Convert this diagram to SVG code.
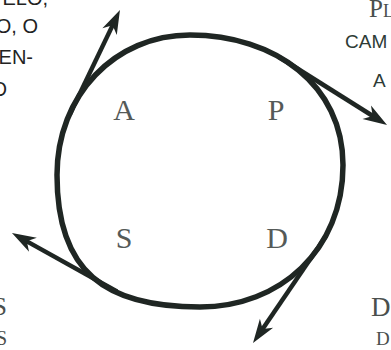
<svg xmlns="http://www.w3.org/2000/svg" width="391" height="350" viewBox="0 0 391 350">
<style>
.ring{fill:none;stroke:#1f2623;stroke-width:5.5}
.arr{fill:none;stroke:#1f2623;stroke-width:4.5;marker-end:url(#head)}
.big{font-family:"Liberation Serif",serif;font-size:30px;fill:#555a58;text-anchor:middle}
.note{font-family:"Liberation Sans",Arial,sans-serif;font-size:20px;fill:#222}
.tr{font-family:"Liberation Sans",Arial,sans-serif;font-size:19px;fill:#2d3b36}
.ser{font-family:"Liberation Serif",serif;fill:#4a4f4d}
</style>
<defs>
<marker id="head" viewBox="-12 -10 28 20" refX="0" refY="0" markerWidth="28" markerHeight="20" markerUnits="userSpaceOnUse" orient="auto">
<path d="M14,0 L-10,-8 L-3,0 L-10,8 Z" fill="#1f2623"/>
</marker>
</defs>
<g id="connectors">
<path class="ring" d="M57,175 C57,95 115,35 190,35 C275,35 343,85 343,165 C343,250 280,307 200,307 C105,307 57,272 57,175 Z"/>
<path class="arr" d="M70,114 L113.9,22.6"/>
<path class="arr" d="M279,57 L375.2,117.5"/>
<path class="arr" d="M326,236 L260.9,331.5"/>
<path class="arr" d="M117,291.5 L24.2,239.9"/>
</g>
<g id="node-A"><text class="big" x="124" y="120">A</text></g>
<g id="node-P"><text class="big" x="276" y="120">P</text></g>
<g id="node-S"><text class="big" x="124" y="248">S</text></g>
<g id="node-D"><text class="big" x="277" y="248">D</text></g>
<g id="text-top-left">
<text class="note" text-anchor="end" x="48" y="5">ELO,</text>
<text class="note" text-anchor="end" x="38" y="33">O, O</text>
<text class="note" text-anchor="end" x="33" y="64">EN-</text>
<text class="note" text-anchor="end" x="7" y="96">O</text>
</g>
<g id="text-top-right">
<text class="ser" x="369" y="17" font-size="25">P<tspan font-size="18">L</tspan></text>
<text class="tr" x="345" y="48">CAM</text>
<text class="tr" x="373" y="87">A</text>
</g>
<g id="text-bottom-left">
<text class="ser" text-anchor="end" x="7" y="315" font-size="26">S</text>
<text class="ser" text-anchor="end" x="7" y="345" font-size="20">S</text>
</g>
<g id="text-bottom-right">
<text class="ser" x="371" y="316" font-size="27">D</text>
<text class="ser" x="376" y="345" font-size="19">D</text>
</g>
</svg>
